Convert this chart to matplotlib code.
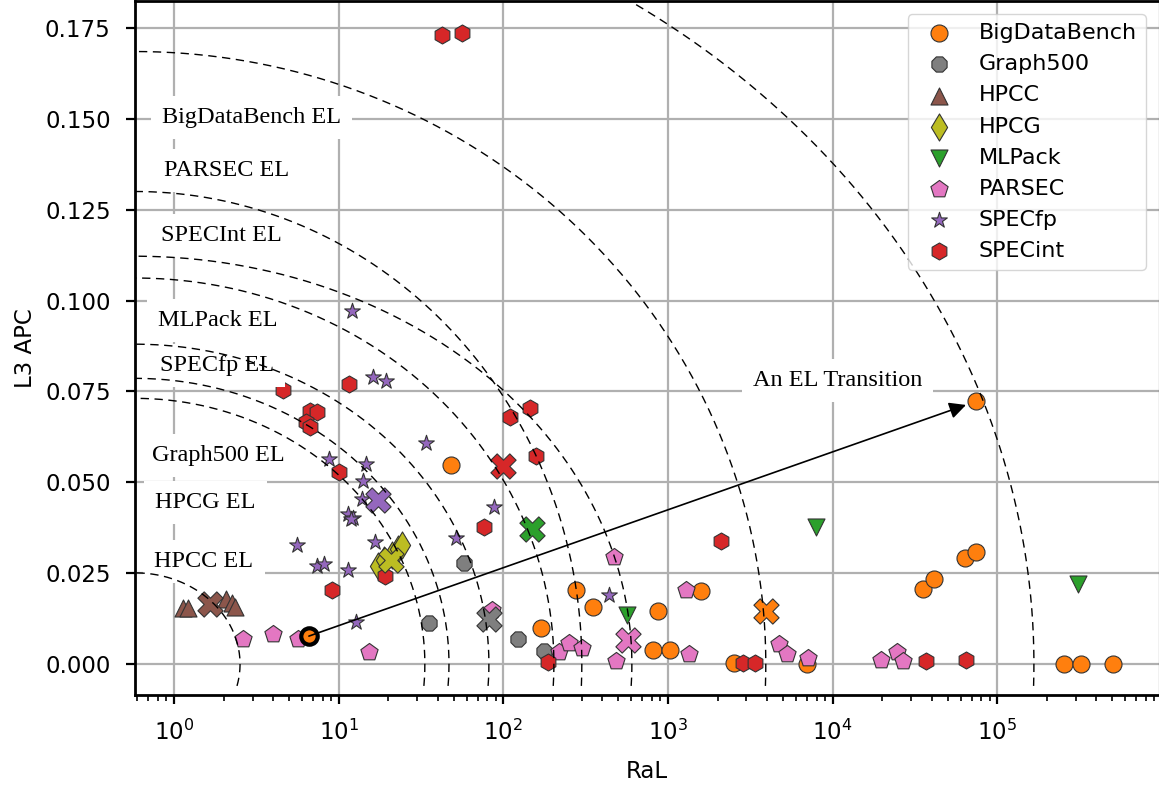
import numpy as np
import matplotlib.pyplot as plt
from matplotlib.ticker import FixedLocator, LogLocator, NullFormatter

# values: (RaL, L3 APC)
bdb_ral = [48, 276, 353, 169, 869, 1585, 806, 1031, 2512, 7040, 35480, 41200,
           63800, 73800, 74800, 2.55e5, 3.21e5, 5.05e5]
bdb_apc = [0.0547, 0.0204, 0.0156, 0.0100, 0.0146, 0.0200, 0.0038, 0.0040, 0.0004,
           0.0000, 0.0206, 0.0233, 0.0292, 0.0309, 0.0723, 0.0000, 0.0000, 0.0000]

g500_ral = [57.9, 35.3, 123, 177]
g500_apc = [0.0278, 0.0114, 0.0068, 0.0036]

hpcc_ral = [1.13, 1.22, 2.07, 2.26, 2.35]
hpcc_apc = [0.0153, 0.0153, 0.0178, 0.0167, 0.0157]

hpcg_ral = [17.3, 18.8, 21.1, 22.9, 24.2]
hpcg_apc = [0.0269, 0.0286, 0.0299, 0.0316, 0.0327]

mlp_ral = [561, 7980, 3.1e5]
mlp_apc = [0.0135, 0.0377, 0.0220]

parsec_ral = [2.61, 4.01, 5.64, 15.2, 86, 218, 250, 300, 471, 481, 1285, 1346,
              4730, 5250, 7100, 19800, 24650, 26800]
parsec_apc = [0.0069, 0.0082, 0.0068, 0.0034, 0.0150, 0.0034, 0.0057, 0.0043, 0.0295,
              0.0008, 0.0205, 0.0027, 0.0054, 0.0029, 0.0016, 0.0011, 0.0034, 0.0008]

specfp_ral = [12.0, 16.2, 19.3, 33.9, 8.73, 14.6, 14.1, 13.8, 11.4, 12.3, 11.9, 16.6,
              5.56, 7.42, 8.18, 11.4, 12.7, 88.1, 51.5, 436]
specfp_apc = [0.0970, 0.0791, 0.0780, 0.0609, 0.0565, 0.0551, 0.0505, 0.0455, 0.0414,
              0.0403, 0.0398, 0.0336, 0.0327, 0.0269, 0.0274, 0.0258, 0.0115, 0.0432,
              0.0348, 0.0190]

specint_ral = [42.2, 56.3, 4.57, 11.5, 6.69, 7.35, 6.33, 6.69, 10.0, 9.07, 19.1, 110,
               146, 157, 76.2, 2095, 188, 2863, 3373, 37150, 65000]
specint_apc = [0.1730, 0.1737, 0.0755, 0.0771, 0.0695, 0.0693, 0.0666, 0.0652, 0.0528,
               0.0205, 0.0243, 0.0679, 0.0705, 0.0572, 0.0376, 0.0339, 0.0005, 0.0004,
               0.0004, 0.0008, 0.0011]

# suite centres (X markers)
cen_ral = [3965, 82.2, 1.65, 20.8, 149, 573, 17.4, 99]
cen_apc = [0.0146, 0.0125, 0.0165, 0.0286, 0.0371, 0.0066, 0.0451, 0.0545]

# transition start / end
trans_start = (6.6, 0.0077)
trans_end = (74800, 0.0723)

# EL curves: APC at left edge, RaL where they reach zero
el_apc = [0.0251, 0.0731, 0.0786, 0.0880, 0.1062, 0.1122, 0.130, 0.1685, 0.2185]
el_ral = [2.52, 33.4, 46.8, 81.8, 203, 604, 300, 3930, 1.67e5]

el_names = ['BigDataBench EL', 'PARSEC EL', 'SPECInt EL', 'MLPack EL', 'SPECfp EL',
            'Graph500 EL', 'HPCG EL', 'HPCC EL']
el_lab_x = [0.845, 0.87, 0.84, 0.80, 0.82, 0.74, 0.77, 0.76]
el_lab_y = [0.1503, 0.1357, 0.1179, 0.0945, 0.0821, 0.0574, 0.0445, 0.0283]

suites = ['BigDataBench', 'Graph500', 'HPCC', 'HPCG', 'MLPack', 'PARSEC', 'SPECfp', 'SPECint']
colors = ['#ff7f0e', '#7f7f7f', '#8c564b', '#bcbd22', '#2ca02c', '#e377c2', '#9467bd', '#d62728']
markers = ['o', '8', '^', 'd', 'v', 'p', '*', 'h']
sizes = [150, 140, 150, 190, 150, 170, 140, 150]
xs = [bdb_ral, g500_ral, hpcc_ral, hpcg_ral, mlp_ral, parsec_ral, specfp_ral, specint_ral]
ys = [bdb_apc, g500_apc, hpcc_apc, hpcg_apc, mlp_apc, parsec_apc, specfp_apc, specint_apc]

fig = plt.figure(figsize=(11.59, 7.88), dpi=100)
ax = fig.add_axes([135/1159, 93/788, 1024/1159, 694/788])
ax.set_xscale('log')
ax.set_xlim(0.58, 9.6e5)
ax.set_ylim(-0.0085, 0.1824)
ax.set_axisbelow(True)
ax.grid(True, which='major', color='#b0b0b0', lw=1.6)

for name, c, m, s, x, y in zip(suites, colors, markers, sizes, xs, ys):
    ax.scatter(x, y, s=s, c=c, marker=m, edgecolors='#333333', linewidths=0.8,
               label=name, zorder=2)

for x, y, c in zip(cen_ral, cen_apc, colors):
    ax.scatter(x, y, s=330, c=c, marker='X', edgecolors='#333333', linewidths=0.8, zorder=2)

ax.scatter(*trans_start, s=140, c='#ff7f0e', edgecolors='k', linewidths=3, zorder=2.5)
ax.annotate('', xy=trans_end, xytext=trans_start,
            arrowprops=dict(arrowstyle='-|>', color='k', lw=1.2, mutation_scale=25,
                            shrinkA=0, shrinkB=8), zorder=3)
ax.text(10700, 0.0780, 'An EL Transition', family='Liberation Serif', fontsize=17.5,
        ha='center', va='center', bbox=dict(fc='white', ec='none', pad=8), zorder=3)

u0 = np.log10(0.58)
for apc, ral in zip(el_apc, el_ral):
    A = np.log10(ral) - u0
    t = np.linspace(np.arcsin(-0.006 / apc), np.pi / 2, 400)
    ax.plot(10 ** (u0 + A * np.cos(t)), apc * np.sin(t), color='k', lw=1,
            ls=(0, (6, 4)), zorder=4)

for nm, x, y in zip(el_names, el_lab_x, el_lab_y):
    ax.text(x, y, nm, family='Liberation Serif', fontsize=17.5, ha='left', va='center',
            bbox=dict(fc='white', ec='none', pad=8), zorder=3)

ax.set_yticks(np.arange(0, 0.176, 0.025))
ax.xaxis.set_major_locator(FixedLocator([1, 10, 100, 1e3, 1e4, 1e5]))
ax.xaxis.set_minor_locator(LogLocator(base=10, subs=np.arange(2, 10), numticks=12))
ax.xaxis.set_minor_formatter(NullFormatter())
ax.tick_params(axis='both', which='major', labelsize=16.5, length=6.5, width=1.6, pad=11)
ax.tick_params(axis='x', which='minor', length=4, width=1.2)
for sp in ['left', 'bottom', 'top']:
    ax.spines[sp].set_linewidth(2)
ax.set_xlabel('RaL', fontsize=16.5, labelpad=11)
ax.set_ylabel('L3 APC', fontsize=16.5, labelpad=6)

ax.legend(loc='upper right', fontsize=16, scatterpoints=1, borderaxespad=0.6)

fig.savefig('out.png', dpi=100)
